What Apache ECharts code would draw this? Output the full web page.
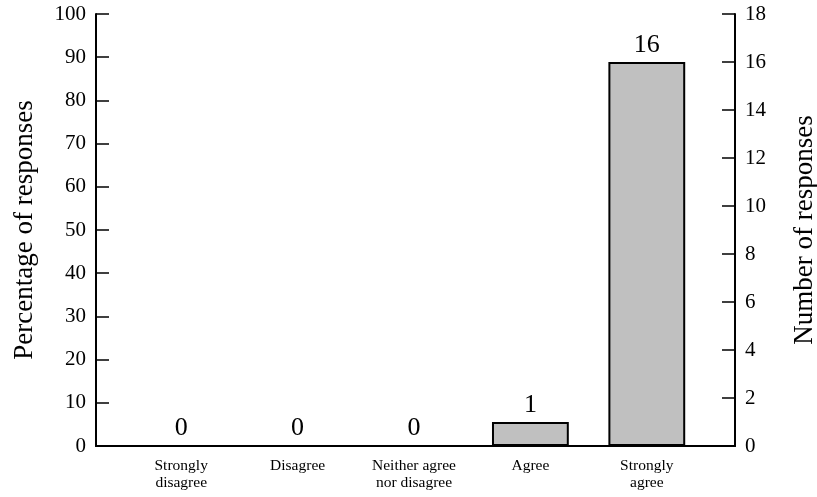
<!DOCTYPE html>
<html>
<head>
<meta charset="utf-8">
<script src="https://cdn.jsdelivr.net/npm/echarts@6/dist/echarts.min.js"></script>
<style>
html,body{margin:0;padding:0;background:#fff;}
#chart{width:817px;height:497px;}
</style>
</head>
<body>
<div id="chart"></div>
<script>
var categories = ['Strongly\ndisagree', 'Disagree', 'Neither agree\nnor disagree', 'Agree', 'Strongly\nagree'];
var counts = [0, 0, 0, 1, 16];
var percentAxis = {min: 0, max: 100, interval: 10};
var countAxis = {min: 0, max: 18, interval: 2};
var leftTitle = 'Percentage of responses';
var rightTitle = 'Number of responses';

var FONT = "'Liberation Serif', 'Times New Roman', serif";
var chart = echarts.init(document.getElementById('chart'));
chart.setOption({
  animation: false,
  textStyle: {fontFamily: FONT, color: '#000'},
  grid: [
    {left: 96, right: 82, top: 14, bottom: 51, containLabel: false, outerBoundsMode: 'none'},
    {left: 123, right: 112, top: 14, bottom: 51, containLabel: false, outerBoundsMode: 'none'}
  ],
  xAxis: [
    {gridIndex: 0, type: 'category', data: categories, position: 'bottom',
     axisLine: {lineStyle: {color: '#000', width: 2}}, axisTick: {show: false},
     axisLabel: {show: false}, splitLine: {show: false}},
    {gridIndex: 0, type: 'category', data: categories, position: 'top',
     axisLine: {lineStyle: {color: '#000', width: 2}}, axisTick: {show: false},
     axisLabel: {show: false}, splitLine: {show: false}},
    {gridIndex: 1, type: 'category', data: categories, position: 'bottom',
     axisLine: {show: false}, axisTick: {show: false},
     axisLabel: {show: true, margin: 11, fontSize: 15.5, lineHeight: 17, color: '#000', fontFamily: FONT, interval: 0}}
  ],
  yAxis: [
    {gridIndex: 0, type: 'value', position: 'left', min: percentAxis.min, max: percentAxis.max, interval: percentAxis.interval,
     name: leftTitle, nameLocation: 'middle', nameGap: 58,
     nameTextStyle: {fontSize: 27, color: '#000', fontFamily: FONT},
     axisLine: {show: true, lineStyle: {color: '#000', width: 2}},
     axisTick: {show: true, inside: true, length: 13, lineStyle: {color: '#000', width: 1.5}},
     axisLabel: {fontSize: 21, color: '#000', margin: 10, fontFamily: FONT},
     splitLine: {show: false}},
    {gridIndex: 0, type: 'value', position: 'right', min: countAxis.min, max: countAxis.max, interval: countAxis.interval,
     name: rightTitle, nameLocation: 'middle', nameGap: 56,
     nameTextStyle: {fontSize: 27, color: '#000', fontFamily: FONT},
     axisLine: {show: true, lineStyle: {color: '#000', width: 2}},
     axisTick: {show: true, inside: true, length: 13, lineStyle: {color: '#000', width: 1.5}},
     axisLabel: {fontSize: 21, color: '#000', margin: 10, fontFamily: FONT},
     splitLine: {show: false}},
    {gridIndex: 1, type: 'value', min: countAxis.min, max: countAxis.max, interval: countAxis.interval, show: false}
  ],
  series: [{
    type: 'bar',
    xAxisIndex: 2,
    yAxisIndex: 2,
    data: counts,
    barWidth: '66%',
    itemStyle: {color: '#c0c0c0', borderColor: '#000', borderWidth: 2},
    label: {show: true, position: 'top', distance: 4, fontSize: 26, color: '#000', fontFamily: FONT}
  }]
});
</script>
</body>
</html>
